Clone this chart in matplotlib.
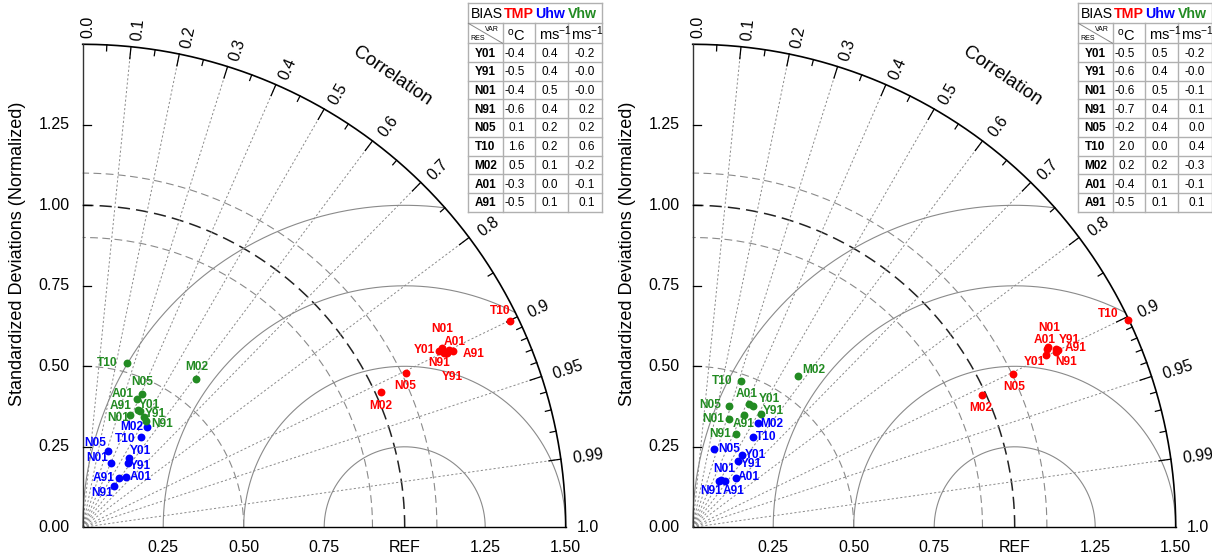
import numpy as np
import matplotlib
matplotlib.use("Agg")
import matplotlib.pyplot as plt

plt.rcParams['font.family'] = ['Liberation Sans', 'DejaVu Sans']
plt.rcParams['mathtext.fontset'] = 'custom'
plt.rcParams['mathtext.rm'] = 'Liberation Sans'
plt.rcParams['mathtext.it'] = 'Liberation Sans:italic'
plt.rcParams['mathtext.bf'] = 'Liberation Sans:bold'

# ---------------------------------------------------------------- data
cases = ["Y01", "Y91", "N01", "N91", "N05", "T10", "M02", "A01", "A91"]
var_names = ["TMP", "Uhw", "Vhw"]
var_units = [r"$^{\mathrm{o}}$C", r"ms$^{-1}$", r"ms$^{-1}$"]
var_colors = ["#ff0000", "#0000ff", "#228b22"]

# left diagram: normalized standard deviation and correlation
std_tmp_a = [1.236, 1.256, 1.246, 1.245, 1.112, 1.474, 1.017, 1.265, 1.273]
cor_tmp_a = [0.896, 0.902, 0.895, 0.900, 0.903, 0.901, 0.910, 0.900, 0.903]
std_uhw_a = [0.259, 0.243, 0.218, 0.161, 0.251, 0.335, 0.370, 0.205, 0.190]
cor_uhw_a = [0.561, 0.573, 0.404, 0.604, 0.319, 0.544, 0.543, 0.654, 0.600]
std_vhw_a = [0.402, 0.393, 0.378, 0.384, 0.453, 0.529, 0.580, 0.432, 0.402]
cor_vhw_a = [0.443, 0.487, 0.391, 0.511, 0.409, 0.259, 0.609, 0.391, 0.425]
bias_tmp_a = [-0.4, -0.5, -0.4, -0.6, 0.1, 1.6, 0.5, -0.3, -0.5]
bias_uhw_a = [0.4, 0.4, 0.5, 0.4, 0.2, 0.2, 0.1, 0.0, 0.1]
bias_vhw_a = [-0.2, -0.0, -0.0, 0.2, 0.2, 0.6, -0.2, -0.1, 0.1]

# right diagram
std_tmp_b = [1.220, 1.255, 1.238, 1.252, 1.102, 1.496, 0.989, 1.233, 1.260]
cor_tmp_b = [0.899, 0.898, 0.892, 0.901, 0.902, 0.903, 0.909, 0.893, 0.900]
std_uhw_b = [0.272, 0.249, 0.171, 0.166, 0.252, 0.336, 0.383, 0.204, 0.175]
cor_uhw_b = [0.560, 0.571, 0.509, 0.499, 0.266, 0.553, 0.533, 0.657, 0.570]
std_vhw_b = [0.421, 0.409, 0.353, 0.320, 0.392, 0.479, 0.573, 0.421, 0.383]
cor_vhw_b = [0.446, 0.516, 0.315, 0.419, 0.288, 0.311, 0.569, 0.414, 0.416]
bias_tmp_b = [-0.5, -0.6, -0.6, -0.7, -0.2, 2.0, 0.2, -0.4, -0.5]
bias_uhw_b = [0.5, 0.4, 0.5, 0.4, 0.4, 0.0, 0.2, 0.1, 0.1]
bias_vhw_b = [-0.2, -0.0, -0.1, 0.1, 0.0, 0.4, -0.3, -0.1, 0.1]

corr_ticks = [0.0, 0.1, 0.2, 0.3, 0.4, 0.5, 0.6, 0.7, 0.8, 0.9, 0.95, 0.99, 1.0]
corr_tick_labels = ["0.0", "0.1", "0.2", "0.3", "0.4", "0.5", "0.6", "0.7",
                    "0.8", "0.9", "0.95", "0.99", "1.0"]
std_ticks = [0.25, 0.50, 0.75, 1.00, 1.25, 1.50]
std_tick_labels = ["0.25", "0.50", "0.75", "REF", "1.25", "1.50"]
ystd_ticks = [0.0, 0.25, 0.50, 0.75, 1.00, 1.25]
ystd_tick_labels = ["0.00", "0.25", "0.50", "0.75", "1.00", "1.25"]

# ---------------------------------------------------------------- layout
# label placement around each marker, pixels (right, down)
offsets_a = [
    [(-15, -1), (5, 24), (0, -19), (-4, 10), (-1, 13), (-10, -10), (0, 14), (5, -8), (21, 3)],
    [(11, -7), (13, 3), (-14, -5), (-12, 7), (-13, -8), (-16, 2), (-16, 0), (15, 0), (-16, 0)],
    [(9, -6), (11, -3), (-12, 3), (16, 3), (0, -12), (-20, 0), (0, -12), (-14, -5), (-17, -4)],
]
offsets_b = [
    [(-11, 7), (14, -9), (1, -19), (10, 10), (1, 13), (-19, -6), (-1, 13), (-3, -9), (18, -2)],
    [(14, 0), (13, 3), (3, -11), (-8, 10), (15, 0), (14, 0), (13, 1), (13, -1), (9, 10)],
    [(16, -7), (13, -3), (-15, 0), (-16, 0), (-19, -1), (-18, 0), (16, -6), (-2, -10), (0, 9)],
]

panels = [
    dict(std=[std_tmp_a, std_uhw_a, std_vhw_a], cor=[cor_tmp_a, cor_uhw_a, cor_vhw_a],
         bias=[bias_tmp_a, bias_uhw_a, bias_vhw_a], offsets=offsets_a),
    dict(std=[std_tmp_b, std_uhw_b, std_vhw_b], cor=[cor_tmp_b, cor_uhw_b, cor_vhw_b],
         bias=[bias_tmp_b, bias_uhw_b, bias_vhw_b], offsets=offsets_b),
]

FIG_W, FIG_H, DPI = 1212, 560, 100
SCALE = 322.0          # pixels per normalized std unit
ORIGIN_X = 82.7        # origin of the left diagram (pixels)
ORIGIN_Y = 527.3
PANEL_SHIFT = 610      # horizontal shift of the right diagram
PANEL_W = 602
RMAX = 1.5
PX = 1.0 / SCALE

GRID_GRAY = "#8a8a8a"

fig = plt.figure(figsize=(FIG_W / DPI, FIG_H / DPI), dpi=DPI)


def draw_diagram(ix, p):
    left_px = PANEL_SHIFT * ix
    ax = fig.add_axes([left_px / FIG_W, 0, PANEL_W / FIG_W, 1])
    ax.set_xlim((-ORIGIN_X) * PX, (PANEL_W - ORIGIN_X) * PX)
    ax.set_ylim(-(FIG_H - ORIGIN_Y) * PX, ORIGIN_Y * PX)
    ax.axis('off')

    th = np.linspace(0, np.pi / 2, 500)

    # dashed std arcs around the origin
    for r in [0.5, 0.9, 1.1]:
        ax.plot(r * np.cos(th), r * np.sin(th), color=GRID_GRAY, lw=0.8,
                ls=(0, (7, 4)), zorder=1)
    ax.plot(np.cos(th), np.sin(th), color="#222222", lw=1.1, ls=(0, (8, 4)), zorder=1)

    # centred RMS difference circles around REF
    phi = np.linspace(0, np.pi, 800)
    for rr in [0.25, 0.5, 0.75, 1.0]:
        x = 1.0 + rr * np.cos(phi)
        y = rr * np.sin(phi)
        m = x ** 2 + y ** 2 <= RMAX ** 2 + 1e-9
        ax.plot(x[m], y[m], color=GRID_GRAY, lw=0.8, zorder=1)

    # correlation rays
    for c in corr_ticks[1:-1]:
        a = np.arccos(c)
        ax.plot([0, RMAX * np.cos(a)], [0, RMAX * np.sin(a)], color=GRID_GRAY,
                lw=0.7, ls=(0, (2.2, 2.2)), zorder=1)

    # frame
    ax.plot(RMAX * np.cos(th), RMAX * np.sin(th), color="black", lw=1.2, zorder=3)
    ax.plot([0, RMAX], [0, 0], color="black", lw=1.0, zorder=3)
    ax.plot([0, 0], [0, RMAX], color="#333333", lw=1.0, zorder=3)

    # ticks on the correlation arc
    major = [0.1, 0.2, 0.3, 0.4, 0.5, 0.6, 0.7, 0.8, 0.9, 0.95, 0.99]
    minor = [0.05, 0.15, 0.25, 0.35, 0.45, 0.55, 0.65, 0.75, 0.85,
             0.91, 0.92, 0.93, 0.94, 0.96, 0.97, 0.98]
    for vals, ln in [(major, 12 * PX), (minor, 6 * PX)]:
        for c in vals:
            a = np.arccos(c)
            ax.plot([RMAX * np.cos(a), (RMAX - ln) * np.cos(a)],
                    [RMAX * np.sin(a), (RMAX - ln) * np.sin(a)],
                    color="black", lw=0.9, zorder=3)

    for c, lab in zip(corr_ticks, corr_tick_labels):
        a = np.arccos(c)
        r = 1.52
        ax.text(r * np.cos(a) + 5 * PX, r * np.sin(a), lab, rotation=np.degrees(a),
                rotation_mode='anchor', ha='left', va='center', fontsize=11.5)

    ang = np.radians(55.5)
    ax.text(1.70 * np.cos(ang), 1.70 * np.sin(ang), "Correlation",
            rotation=np.degrees(ang) - 90, rotation_mode='anchor',
            ha='center', va='center', fontsize=13.5)

    # std axis ticks and labels
    for v, lab in zip(ystd_ticks, ystd_tick_labels):
        if v > 0:
            ax.plot([0, 8 * PX], [v, v], color="black", lw=0.9, zorder=3)
        ax.text(-13 * PX, v, lab, ha='right', va='center', fontsize=11.5)
    for v, lab in zip(std_ticks, std_tick_labels):
        ax.text(v, -20 * PX, lab, ha='center', va='center', fontsize=11.5)

    ax.text(-65 * PX, 0.85, "Standardized Deviations (Normalized)", rotation=90,
            ha='center', va='center', fontsize=13)

    # model points
    for k in range(3):
        s = np.array(p["std"][k])
        c = np.array(p["cor"][k])
        a = np.arccos(c)
        xs, ys = s * np.cos(a), s * np.sin(a)
        ax.scatter(xs, ys, s=32, color=var_colors[k], zorder=5, linewidths=0)
        for j, name in enumerate(cases):
            dx, dy = p["offsets"][k][j]
            ax.annotate(name, (xs[j], ys[j]), xytext=(dx * 0.72, -dy * 0.72),
                        textcoords='offset points', ha='center', va='center',
                        fontsize=8.6, fontweight='bold', color=var_colors[k],
                        zorder=6)


def draw_table(ix, p):
    tl, tt, tw, th_ = 468.3 + PANEL_SHIFT * ix, 3.3, 134.0, 208.4
    tax = fig.add_axes([tl / FIG_W, (FIG_H - tt - th_) / FIG_H, tw / FIG_W, th_ / FIG_H])
    tax.set_xlim(0, tw)
    tax.set_ylim(th_, 0)
    tax.axis('off')

    cols = [0, 34.4, 66.7, 99.4, tw]
    row_h = (th_ - 40) / len(cases)
    rows = [0, 20, 40] + [40 + row_h * (k + 1) for k in range(len(cases))]
    lc = "#b0b0b0"
    for y in rows:
        tax.plot([0, tw], [y, y], color=lc, lw=1.0, clip_on=False)
    for x in [0, tw]:
        tax.plot([x, x], [0, th_], color=lc, lw=1.0, clip_on=False)
    for x in cols[1:-1]:
        tax.plot([x, x], [20, th_], color=lc, lw=1.0, clip_on=False)

    # title row
    tax.text(2.5, 11, "BIAS", ha='left', va='center', fontsize=10.2)
    for name, col, x in zip(var_names, var_colors, [35.7, 66.7, 100.0]):
        tax.text(x, 11, name, ha='left', va='center', fontsize=10.2,
                 fontweight='bold', color=col)

    # header row
    tax.plot([0, cols[1]], [20, 40], color="#888888", lw=0.7)
    tax.text(31, 23, "VAR", ha='right', va='top', fontsize=5)
    tax.text(2.5, 38.5, "RES", ha='left', va='bottom', fontsize=5)
    for unit, x in zip(var_units, [39.0, 70.5, 102.5]):
        tax.text(x, 37, unit, ha='left', va='baseline', fontsize=10.5)

    # values
    right_edges = [56.7, 89.4, 126.7]
    for j, name in enumerate(cases):
        yb = 40 + row_h * j + row_h / 2 + 3.9
        tax.text(6.2, yb, name, ha='left', va='baseline', fontsize=8.5, fontweight='bold')
        for k in range(3):
            tax.text(right_edges[k], yb, f"{p['bias'][k][j]:.1f}", ha='right',
                     va='baseline', fontsize=8.5)


for i, p in enumerate(panels):
    draw_diagram(i, p)
    draw_table(i, p)

fig.savefig("out.png", dpi=DPI)
